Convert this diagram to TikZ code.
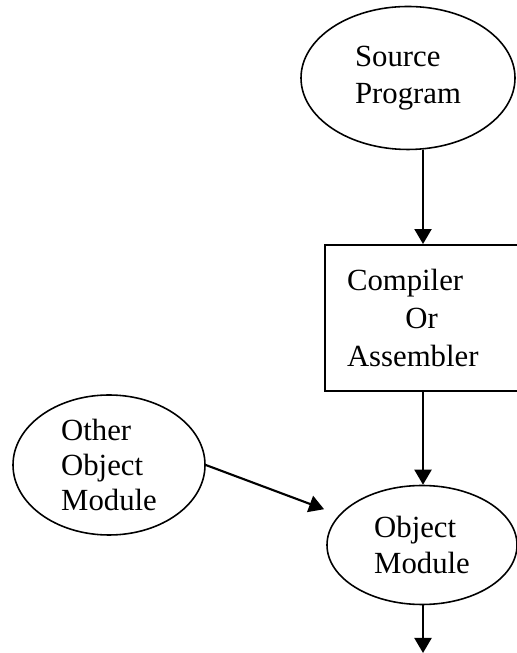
\documentclass[tikz,border=0pt]{standalone}
\usepackage{fontspec}
\setmainfont{Liberation Serif}
\usetikzlibrary{shapes.geometric, arrows.meta, calc}
\tikzset{
  blob/.style={draw, ellipse, line width=0.9pt, inner sep=0pt, align=left,
               font=\fontsize{17.5}{21}\selectfont},
  stage/.style={draw, rectangle, line width=1.1pt, inner xsep=0.44cm, inner ysep=0pt,
                text width=3.04cm, minimum height=2.92cm, align=left,
                font=\fontsize{17.5}{21.6}\selectfont},
  arrow/.style={-{Triangle[width=0.34cm, length=0.3cm]}, line width=1.2pt},
}

\begin{document}
\begin{tikzpicture}
\useasboundingbox (0,0) rectangle (10.32,13.06);

% source and translator
\node[blob, minimum width=4.28cm, minimum height=2.86cm] (src) at (8.16, 11.50) {Source\\Program};
\node[stage] (trans) at (8.46, 6.70) {Compiler\\\hspace*{1.9em}Or\\Assembler};

% object modules
\node[blob, minimum width=3.84cm, minimum height=2.80cm, font=\fontsize{17.5}{20}\selectfont]
  (other) at (2.18, 3.76) {Other\\Object\\Module};
\node[blob, minimum width=3.80cm, minimum height=2.38cm] (obj) at (8.44, 2.16) {Object\\Module};
\coordinate (out) at (8.46, 0);

% arrows
\draw[arrow] (src.south -| trans.north) -- (trans.north);
\draw[arrow] (trans.south) -- (trans.south |- obj.north);
\draw[arrow, shorten >=0.32cm] (other.east) -- (obj.160);
\draw[arrow] (obj.south -| out) -- (out);

\end{tikzpicture}
\end{document}
